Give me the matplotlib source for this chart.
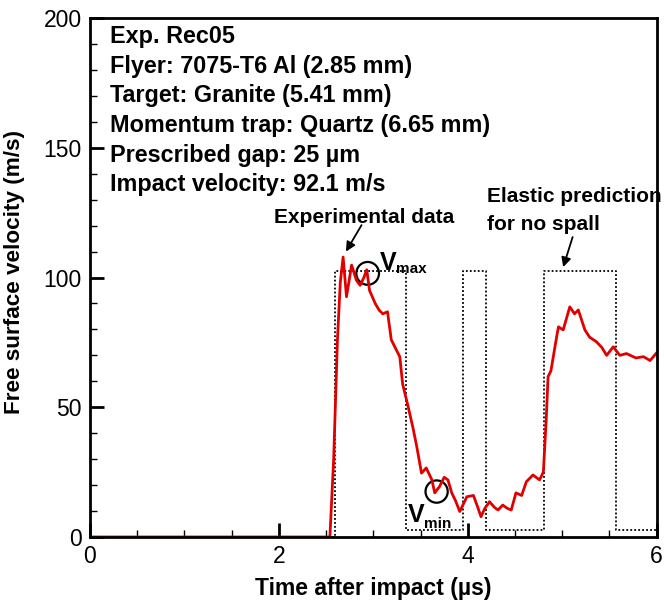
import numpy as np
import matplotlib
matplotlib.use("Agg")
import matplotlib.pyplot as plt
from matplotlib.patches import Ellipse
from matplotlib.ticker import MultipleLocator

plt.rcParams['font.family'] = ['Liberation Sans', 'DejaVu Sans']

# measured free surface velocity (Rec05)
t_exp = [0.0, 2.50, 2.54, 2.58, 2.62, 2.65, 2.68, 2.716, 2.74, 2.77, 2.82, 2.86, 2.90,
         2.93, 2.96, 3.02, 3.06, 3.10, 3.15, 3.19, 3.245, 3.28, 3.31, 3.37, 3.42, 3.46,
         3.51, 3.56, 3.62, 3.65, 3.70, 3.75, 3.79, 3.83, 3.87, 3.915, 3.99, 4.06, 4.10,
         4.14, 4.18, 4.23, 4.28, 4.32, 4.37, 4.42, 4.46, 4.51, 4.57, 4.62, 4.69, 4.76,
         4.80, 4.83, 4.85, 4.88, 4.94, 4.96, 5.01, 5.08, 5.13, 5.17, 5.24, 5.29, 5.36,
         5.42, 5.47, 5.54, 5.61, 5.68, 5.78, 5.86, 5.93, 6.0]
v_exp = [0.0, 0.0, 0.0, 30.0, 76.0, 98.0, 107.9, 92.6, 98.0, 104.8, 99.0, 97.0, 100.0,
         103.0, 95.0, 90.0, 87.5, 86.0, 86.8, 76.0, 72.0, 69.5, 59.0, 50.0, 42.0, 34.8,
         24.6, 26.6, 22.0, 17.0, 19.4, 23.0, 22.0, 17.0, 14.0, 9.8, 15.5, 16.0, 12.0,
         7.8, 11.0, 13.6, 11.5, 10.4, 12.3, 11.0, 10.4, 17.0, 16.0, 21.3, 23.9, 22.0,
         25.0, 45.0, 61.8, 64.0, 77.0, 81.0, 79.8, 88.7, 86.0, 87.5, 79.8, 77.0, 75.3,
         73.0, 70.0, 73.3, 70.0, 70.7, 69.0, 69.5, 68.0, 71.0]

# elastic prediction for no spall (piecewise constant)
t_el = [0.0, 2.59, 2.59, 3.35, 3.35, 3.95, 3.95, 4.19, 4.19, 4.81, 4.81, 5.57, 5.57, 6.0]
v_el = [0.0, 0.0, 102.5, 102.5, 2.5, 2.5, 102.5, 102.5, 2.5, 2.5, 102.5, 102.5, 2.5, 2.5]

info_lines = ["Exp. Rec05",
              "Flyer: 7075-T6 Al (2.85 mm)",
              "Target: Granite (5.41 mm)",
              "Momentum trap: Quartz (6.65 mm)",
              "Prescribed gap: 25 µm",
              "Impact velocity: 92.1 m/s"]

fig = plt.figure(figsize=(6.64, 6.03), dpi=100)
ax = fig.add_axes([0.1355, 0.1095, 0.8535, 0.8605])

ax.plot(t_el, v_el, color='black', linestyle=(0, (1, 1.2)), linewidth=1.3)
ax.plot(t_exp, v_exp, color='#e00000', linewidth=2.0)

ax.set_xlim(0, 6)
ax.set_ylim(0, 200)
ax.xaxis.set_major_locator(MultipleLocator(2))
ax.xaxis.set_minor_locator(MultipleLocator(0.5))
ax.yaxis.set_major_locator(MultipleLocator(50))
ax.yaxis.set_minor_locator(MultipleLocator(10))
ax.tick_params(which='major', direction='in', length=10, width=2, pad=6, labelsize=16.5)
ax.tick_params(which='minor', direction='in', length=5, width=1)
ax.tick_params(top=False, right=False)
for s in ax.spines.values():
    s.set_linewidth(2)

ax.set_xlabel("Time after impact (µs)", fontsize=16.5, fontweight='bold', labelpad=6)
ax.set_ylabel("Free surface velocity (m/s)", fontsize=16.2, fontweight='bold')
ax.yaxis.set_label_coords(-0.115, 0.51)

for i, line in enumerate(info_lines):
    ax.text(0.035, 0.9515 - i * 0.057, line, transform=ax.transAxes,
            fontsize=16.8, fontweight='bold', va='baseline', ha='left')

# experimental data label and arrow
ax.text(2.90, 121, "Experimental data", fontsize=15, fontweight='bold',
        ha='center', va='baseline')
ax.annotate("", xy=(2.71, 110), xytext=(2.875, 120.2),
            arrowprops=dict(arrowstyle='-|>', color='black', lw=1.3, shrinkA=0, shrinkB=0,
                            mutation_scale=14))

# elastic prediction label and arrow
ax.text(4.20, 129.1, "Elastic prediction", fontsize=15, fontweight='bold',
        ha='left', va='baseline', clip_on=False)
ax.text(4.20, 118.3, "for no spall", fontsize=15, fontweight='bold',
        ha='left', va='baseline')
ax.annotate("", xy=(5.01, 104), xytext=(5.11, 115.6),
            arrowprops=dict(arrowstyle='-|>', color='black', lw=1.3, shrinkA=0, shrinkB=0,
                            mutation_scale=14))

# circled extremes
ax.add_patch(Ellipse((2.94, 101.6), 0.24, 8.8, fill=False, edgecolor='black', lw=1.6))
ax.add_patch(Ellipse((3.67, 17.5), 0.235, 8.6, fill=False, edgecolor='black', lw=1.6))
ax.text(3.07, 102.9, "V", fontsize=18, fontweight='bold', ha='left', va='baseline')
ax.text(3.245, 101.6, "max", fontsize=11, fontweight='bold', ha='left', va='baseline')
ax.text(3.365, 5.8, "V", fontsize=18, fontweight='bold', ha='left', va='baseline')
ax.text(3.535, 3.4, "min", fontsize=11, fontweight='bold', ha='left', va='baseline')

fig.savefig("out.png", dpi=100)
